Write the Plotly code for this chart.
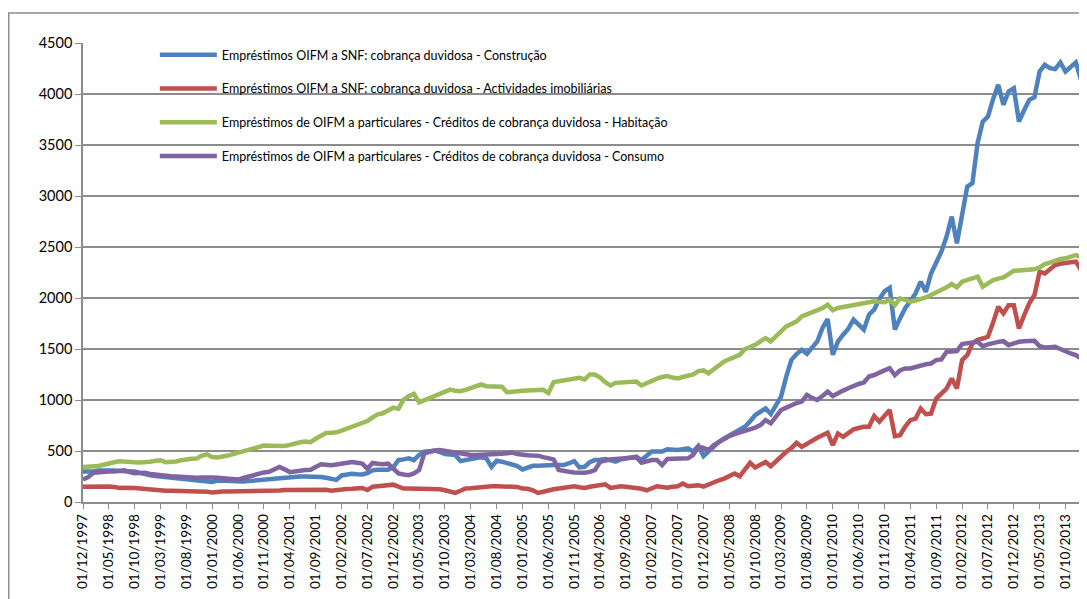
import plotly.graph_objects as go
import pandas as pd

# monthly categories, 01/12/1997 .. 01/01/2014
dates = pd.date_range("1997-12-01", periods=194, freq="MS").strftime("%d/%m/%Y").tolist()
tick_labels = dates[::5]

series_names = [
    "Empréstimos OIFM a SNF: cobrança duvidosa - Construção",
    "Empréstimos OIFM a SNF: cobrança duvidosa - Actividades imobiliárias",
    "Empréstimos de OIFM a particulares - Créditos de cobrança duvidosa - Habitação",
    "Empréstimos de OIFM a particulares - Créditos de cobrança duvidosa - Consumo",
]

construcao = [
    300, 298, 300, 308, 312, 317, 310, 303, 300, 300,
    300, 285, 270, 262, 255, 250, 245, 240, 237, 230,
    227, 223, 220, 215, 210, 197, 210, 207, 203, 202,
    200, 202, 205, 210, 215, 220, 222, 223, 230, 243,
    247, 250, 250, 250, 250, 250, 245, 237, 225, 217,
    260, 270, 277, 272, 270, 283, 310, 315, 320, 317,
    340, 410, 418, 428, 411, 461, 494, 498, 503, 490,
    470, 465, 461, 401, 415, 428, 432, 438, 428, 345,
    405, 395, 378, 365, 352, 319, 340, 355, 355, 360,
    368, 362, 362, 362, 380, 401, 339, 345, 390, 411,
    415, 421, 410, 395, 418, 425, 435, 444, 411, 450,
    494, 494, 494, 517, 512, 510, 518, 526, 494, 549,
    450, 500, 540, 590, 623, 650, 672, 705, 738, 790,
    853, 885, 918, 862, 950, 1033, 1230, 1394, 1450, 1492,
    1453, 1510, 1574, 1705, 1794, 1443, 1574, 1640, 1700, 1787,
    1740, 1689, 1836, 1885, 1990, 2066, 2099, 1692, 1800, 1900,
    1970, 2045, 2160, 2061, 2241, 2350, 2454, 2601, 2798, 2536,
    2798, 3092, 3125, 3517, 3730, 3779, 3950, 4090, 3894, 4025,
    4057, 3730, 3840, 3943, 3969, 4221, 4286, 4254, 4244, 4309,
    4221, 4265, 4309, 4139,
]

imobiliarias = [
    150, 152, 155, 157, 155, 153, 148, 137, 140, 143,
    137, 133, 127, 122, 117, 113, 110, 110, 110, 110,
    108, 105, 103, 103, 100, 93, 103, 103, 103, 103,
    103, 103, 105, 107, 108, 110, 110, 110, 113, 117,
    118, 120, 122, 123, 123, 123, 122, 120, 110, 118,
    127, 128, 130, 133, 137, 117, 150, 155, 157, 162,
    170, 150, 132, 132, 132, 132, 122, 128, 132, 125,
    115, 100, 89, 110, 132, 135, 141, 148, 155, 155,
    155, 155, 155, 150, 148, 132, 130, 115, 89, 100,
    115, 125, 132, 140, 145, 155, 145, 138, 150, 155,
    160, 174, 138, 145, 155, 150, 145, 141, 130, 115,
    140, 155, 148, 141, 150, 155, 181, 155, 160, 165,
    150, 175, 200, 213, 230, 255, 279, 252, 320, 384,
    338, 365, 393, 351, 400, 443, 492, 530, 580, 541,
    575, 607, 630, 655, 679, 557, 672, 639, 680, 712,
    725, 738, 738, 843, 787, 850, 902, 645, 655, 740,
    802, 818, 916, 861, 867, 1014, 1060, 1112, 1211, 1112,
    1391, 1440, 1554, 1590, 1603, 1620, 1760, 1914, 1849, 1930,
    1930, 1701, 1830, 1947, 2029, 2258, 2241, 2280, 2323, 2335,
    2346, 2350, 2356, 2274,
]

habitacao = [
    343, 345, 350, 353, 365, 383, 390, 400, 400, 400,
    390, 388, 390, 395, 405, 410, 390, 390, 397, 410,
    420, 425, 427, 455, 467, 440, 437, 443, 455, 470,
    483, 500, 510, 527, 540, 553, 552, 550, 550, 550,
    560, 577, 585, 593, 587, 620, 650, 677, 680, 683,
    700, 717, 740, 760, 775, 793, 830, 860, 870, 900,
    925, 915, 1003, 1036, 1059, 977, 997, 1020, 1040, 1060,
    1079, 1102, 1090, 1086, 1100, 1120, 1142, 1152, 1135, 1130,
    1128, 1130, 1076, 1085, 1086, 1090, 1092, 1095, 1102, 1100,
    1069, 1175, 1184, 1191, 1200, 1211, 1217, 1201, 1250, 1250,
    1220, 1175, 1142, 1168, 1172, 1175, 1178, 1181, 1142, 1165,
    1194, 1210, 1225, 1234, 1220, 1211, 1225, 1234, 1250, 1283,
    1290, 1262, 1295, 1340, 1377, 1400, 1420, 1443, 1499, 1520,
    1541, 1575, 1607, 1574, 1620, 1672, 1721, 1745, 1771, 1820,
    1840, 1855, 1869, 1900, 1935, 1879, 1902, 1910, 1918, 1925,
    1935, 1945, 1958, 1967, 1962, 1958, 1980, 1930, 1996, 1980,
    1963, 1975, 1986, 2006, 2030, 2052, 2080, 2104, 2137, 2104,
    2160, 2175, 2190, 2209, 2110, 2140, 2176, 2190, 2202, 2235,
    2267, 2270, 2272, 2274, 2281, 2300, 2333, 2346, 2365, 2382,
    2389, 2400, 2421, 2398,
]

consumo = [
    220, 243, 287, 295, 303, 300, 300, 305, 310, 293,
    283, 285, 287, 275, 267, 262, 257, 253, 250, 245,
    243, 240, 237, 240, 243, 240, 237, 235, 233, 230,
    220, 235, 250, 265, 283, 290, 297, 320, 343, 320,
    293, 300, 310, 313, 317, 340, 370, 365, 360, 368,
    377, 385, 393, 385, 377, 327, 383, 375, 370, 377,
    330, 280, 270, 263, 280, 313, 477, 494, 505, 510,
    500, 494, 485, 470, 461, 461, 461, 461, 462, 465,
    467, 472, 478, 484, 470, 461, 458, 455, 454, 440,
    428, 418, 313, 300, 296, 290, 286, 286, 295, 313,
    395, 410, 418, 422, 428, 432, 435, 438, 385, 400,
    411, 411, 362, 421, 421, 421, 425, 428, 461, 541,
    530, 508, 559, 590, 615, 646, 665, 679, 695, 705,
    730, 754, 803, 771, 840, 902, 925, 951, 970, 984,
    1049, 1020, 1000, 1040, 1082, 1039, 1070, 1092, 1115, 1140,
    1157, 1171, 1230, 1245, 1262, 1290, 1312, 1243, 1290, 1309,
    1309, 1325, 1341, 1350, 1358, 1391, 1397, 1472, 1475, 1479,
    1548, 1560, 1565, 1571, 1528, 1545, 1561, 1570, 1577, 1538,
    1555, 1571, 1575, 1577, 1580, 1528, 1515, 1518, 1521, 1500,
    1472, 1456, 1440, 1407,
]

colors = ["#4F81BD", "#C0504D", "#9BBB59", "#8064A2"]
FONT = "Lato"
GRID = "#8c8c8c"

fig = go.Figure()
for i, (name, values) in enumerate(zip(series_names, [construcao, imobiliarias, habitacao, consumo])):
    fig.add_trace(go.Scatter(
        x=dates,
        y=values,
        name=name,
        mode="lines",
        legendgroup=f"g{i}",
        line=dict(color=colors[i], width=4.5),
    ))

# the page body has an 8px margin, so the figure is 8px smaller than the window
fig.update_layout(
    width=1079,
    height=591,
    margin=dict(l=75, r=6, t=35, b=97, autoexpand=False),
    paper_bgcolor="white",
    plot_bgcolor="white",
    font=dict(family=FONT, size=13, color="#000000"),
    showlegend=True,
    legend=dict(
        x=0.072, y=1.0065, xanchor="left", yanchor="top",
        bgcolor="rgba(0,0,0,0)",
        traceorder="grouped",
        tracegroupgap=14.5,
        itemwidth=57,
        font=dict(family=FONT, size=12.5, color="#000000"),
    ),
    xaxis=dict(
        type="category",
        range=[0, len(dates) - 1],
        tickmode="array",
        tickvals=tick_labels,
        ticktext=tick_labels,
        tickangle=-90,
        ticks="outside",
        ticklen=5,
        tickcolor=GRID,
        showline=True,
        linecolor=GRID,
        linewidth=1.5,
        showgrid=False,
        zeroline=False,
        automargin=False,
        tickfont=dict(family=FONT, size=13.5, color="#000000"),
    ),
    yaxis=dict(
        range=[0, 4500],
        dtick=500,
        ticks="outside",
        ticklen=6,
        tickcolor=GRID,
        showline=True,
        linecolor=GRID,
        linewidth=1.5,
        showgrid=True,
        gridcolor=GRID,
        gridwidth=1.5,
        zeroline=False,
        automargin=False,
        tickfont=dict(family=FONT, size=14.5, color="#000000"),
    ),
    shapes=[dict(
        type="rect", xref="paper", yref="paper",
        x0=-0.0744, x1=1.05, y0=-0.3, y1=1.0654,
        line=dict(color="#8c8c8c", width=1.5),
        fillcolor="rgba(0,0,0,0)",
        layer="below",
    )],
)

fig.write_html("out.html")
